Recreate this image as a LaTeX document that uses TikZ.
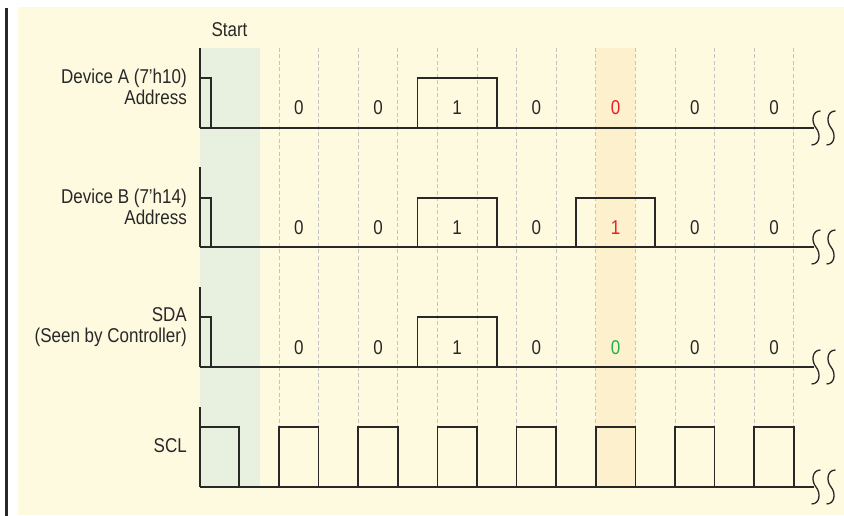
\documentclass[tikz,border=0pt]{standalone}
\usepackage{fontspec}
\setmainfont[FakeStretch=0.85]{Liberation Sans}
\usetikzlibrary{calc}
\definecolor{paper}{RGB}{254,250,224}
\definecolor{startcol}{RGB}{232,240,224}
\definecolor{bitcol}{RGB}{253,240,205}
\definecolor{wire}{RGB}{40,40,40}
\definecolor{gridcol}{RGB}{196,196,196}
\definecolor{badbit}{RGB}{237,28,36}
\definecolor{goodbit}{RGB}{34,177,76}
\newcommand\sigfont{\fontsize{20}{21.5}\selectfont}
\tikzset{
 wave/.style={draw=wire,line width=1.7pt},
 busline/.style={draw=wire,line width=2.1pt},
 tick/.style={draw=gridcol,line width=0.9pt,dash pattern=on 4pt off 2.5pt},
 siglabel/.style={anchor=east,align=right,font=\sigfont,text=wire,inner sep=0},
 bitlabel/.style={font=\sigfont,inner sep=0},
 breakmark/.style={draw=wire,line width=1.3pt}
}
\newcommand\busbreak[1]{%
 \foreach \dx in {816,831}
  \draw[breakmark,shift={(\dx,#1)}] (4.5,-17) .. controls (-4,-17) and (-5,-6) .. (0,0)
   .. controls (5,6) and (4,17) .. (-4.5,17);
}

\begin{document}
\begin{tikzpicture}[x=1pt,y=-1pt]
\path[use as bounding box] (0,0) rectangle (844,516);
\fill[paper] (18,7) rectangle (844,515);
\fill[wire] (4.8,8) rectangle (7.6,516);
\fill[startcol] (200,48) rectangle (260,487);
\fill[bitcol] (595.8,48) rectangle (635.4,487);
\foreach \k in {0,...,13}
 \draw[tick] (279+39.6*\k,48) -- (279+39.6*\k,427);
\node[font=\sigfont,text=wire,inner sep=0] (start) at (229.5,30) {Start};

% device A
\node[siglabel] (devA) at (187,87) {Device A (7’h10)\\Address};
\draw[wave] (200,48) -- (200,128);
\draw[wave] (200,78) -| (211,128);
\draw[wave] (417.6,128) |- (496.8,78) -- (496.8,128);
\draw[busline] (200,128) -- (814,128);
\busbreak{128}
\foreach \v/\c [count=\b from 0] in {0/wire,0/wire,1/wire,0/wire,0/badbit,0/wire,0/wire}
 \node[bitlabel,text=\c] (A\b) at (298.8+79.2*\b,108) {\v};

% device B
\node[siglabel] (devB) at (187,207) {Device B (7’h14)\\Address};
\draw[wave] (200,167) -- (200,247);
\draw[wave] (200,198) -| (211,247);
\draw[wave] (417.6,247) |- (496.8,198) -- (496.8,247);
\draw[wave] (576,247) |- (655.2,198) -- (655.2,247);
\draw[busline] (200,247) -- (814,247);
\busbreak{247}
\foreach \v/\c [count=\b from 0] in {0/wire,0/wire,1/wire,0/wire,1/badbit,0/wire,0/wire}
 \node[bitlabel,text=\c] (B\b) at (298.8+79.2*\b,227.5) {\v};

% SDA
\node[siglabel] (sda) at (187,327) {SDA\\(Seen by Controller)};
\draw[wave] (200,287) -- (200,367);
\draw[wave] (200,317) -| (211,367);
\draw[wave] (417.6,367) |- (496.8,317) -- (496.8,367);
\draw[busline] (200,367) -- (814,367);
\busbreak{367}
\foreach \v/\c [count=\b from 0] in {0/wire,0/wire,1/wire,0/wire,0/goodbit,0/wire,0/wire}
 \node[bitlabel,text=\c] (S\b) at (298.8+79.2*\b,348) {\v};

% SCL
\node[siglabel] (scl) at (187,446) {SCL};
\draw[wave] (200,407) -- (200,487);
\draw[wave] (200,427) -| (239,487);
\foreach \k in {0,...,6}
 \draw[wave] (279+79.2*\k,487) |- (318.6+79.2*\k,427) -- (318.6+79.2*\k,487);
\draw[busline] (200,487) -- (814,487);
\busbreak{487}
\end{tikzpicture}
\end{document}
